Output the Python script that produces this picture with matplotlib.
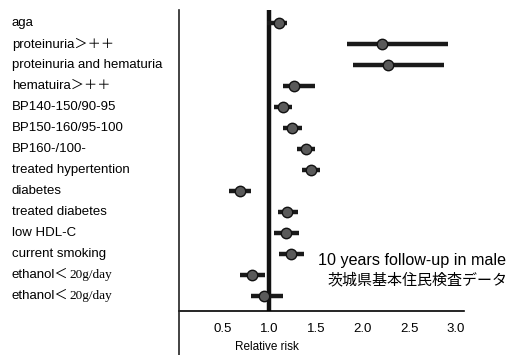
import numpy as np
import matplotlib
matplotlib.use("Agg")
import matplotlib.pyplot as plt
from matplotlib.lines import Line2D

plt.rcParams['font.family'] = ['Liberation Sans', 'Noto Sans CJK JP', 'DejaVu Sans']

# factors, relative risk and 95% CI
factors = ["aga", "proteinuria＞＋＋", "proteinuria and hematuria", "hematuira＞＋＋",
           "BP140-150/90-95", "BP150-160/95-100", "BP160-/100-", "treated hypertention",
           "diabetes", "treated diabetes", "low HDL-C", "current smoking",
           "ethanol＜", "ethanol＜"]
rr = [1.10, 2.21, 2.27, 1.26, 1.15, 1.24, 1.39, 1.45, 0.68, 1.19, 1.18, 1.23, 0.81, 0.94]
ci_lo = [0.98, 1.83, 1.90, 1.15, 1.05, 1.15, 1.30, 1.35, 0.57, 1.09, 1.05, 1.10, 0.68, 0.80]
ci_hi = [1.19, 2.92, 2.87, 1.49, 1.24, 1.35, 1.49, 1.54, 0.80, 1.31, 1.32, 1.37, 0.95, 1.15]
serif_suffix = {12: "20g/day", 13: "20g/day"}
xticks = [0.5, 1.0, 1.5, 2.0, 2.5, 3.0]

fig = plt.figure(figsize=(5.13, 3.55), dpi=100)
ax = fig.add_axes([179/513, 1-311/355, (464-179)/513, (311-10)/355])

ypos = np.arange(len(factors))
ax.hlines(ypos, ci_lo, ci_hi, color='#1a1a1a', lw=3.2, zorder=2)
ax.plot(rr, ypos, 'o', ms=7.5, mfc='#5a5a5a', mec='#111111', mew=1.0, zorder=3)
ax.axvline(1.0, color='#111111', lw=3.2, zorder=1)

ax.set_xlim(0.03, 3.09)
ax.set_ylim(13.71, -0.62)
ax.set_xticks(xticks)
ax.set_xticklabels([f"{t:.1f}" for t in xticks], fontsize=9.5)
ax.tick_params(axis='x', length=0, pad=9)
ax.set_yticks([])
for s in ['top', 'right', 'left']:
    ax.spines[s].set_visible(False)
ax.spines['bottom'].set_linewidth(1.2)
ax.set_xlabel("Relative risk", fontsize=8.5)
ax.xaxis.set_label_coords(0.31, -0.10)

# left border line running down to the bottom of the figure
fig.add_artist(Line2D([179/513, 179/513], [1-10/355, 0], color='#222222', lw=1.2))

# row labels
trans = matplotlib.transforms.blended_transform_factory(fig.transFigure, ax.transData)
renderer = fig.canvas.get_renderer()
for i, name in enumerate(factors):
    t = ax.text(12/513, i, name, transform=trans, fontsize=9.5, ha='left', va='center',
                clip_on=False)
    if i in serif_suffix:
        bb = t.get_window_extent(renderer)
        ax.text(bb.x1/fig.bbox.width + 1/513, i, serif_suffix[i], transform=trans,
                fontsize=9.5, ha='left', va='center', family='Liberation Serif', clip_on=False)

fig.text(318/513, 1-260/355, "10 years follow-up in male", fontsize=11.6, ha='left', va='center')
fig.text(327/513, 1-280/355, "茨城県基本住民検査データ", fontsize=10.8, ha='left', va='center',
         family=['Noto Sans CJK JP', 'DejaVu Sans'])

fig.savefig("out.png", dpi=100)
